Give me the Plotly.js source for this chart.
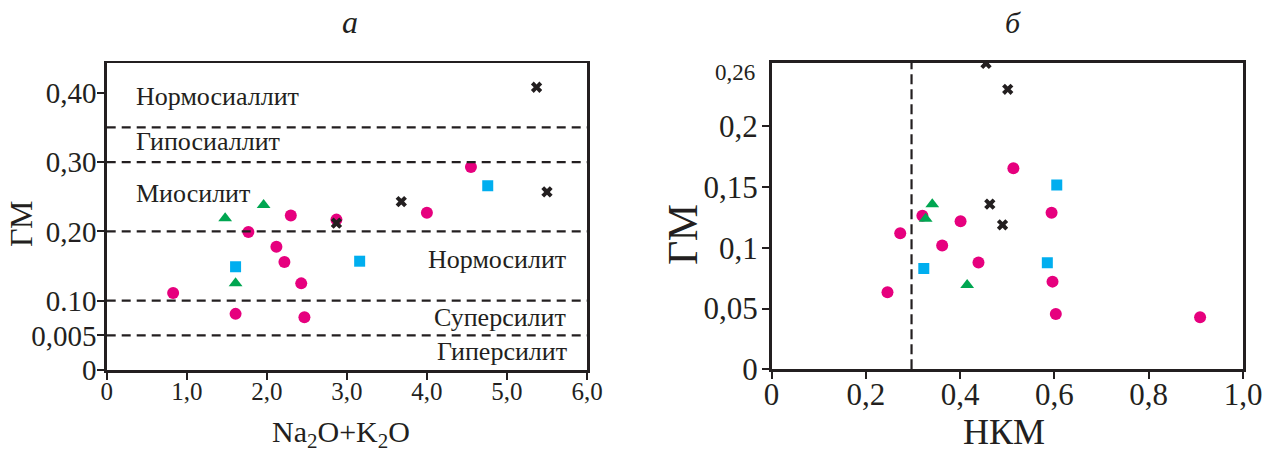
<!DOCTYPE html>
<html>
<head>
<meta charset="utf-8">
<script src="https://cdn.plot.ly/plotly-3.0.1.min.js"></script>
<style>html,body{margin:0;padding:0;background:#fff;}#chart{width:1265px;height:453px;}</style>
</head>
<body>
<div id="chart"></div>
<script>
// ---- Panel а : Na2O+K2O vs ГМ ----
const aCircleX = [0.83, 1.77, 2.12, 2.22, 2.30, 2.43, 1.61, 2.47, 2.87, 4.00, 4.55];
const aCircleY = [0.111, 0.199, 0.178, 0.156, 0.223, 0.125, 0.081, 0.076, 0.217, 0.227, 0.293];
const aTriX = [1.48, 1.96, 1.61];
const aTriY = [0.219, 0.238, 0.125];
const aSqX = [1.61, 3.16, 4.76];
const aSqY = [0.149, 0.157, 0.266];
const aCrossX = [2.87, 3.68, 5.37, 5.50];
const aCrossY = [0.212, 0.243, 0.408, 0.257];
const aBoundaries = [0.05, 0.10, 0.20, 0.30, 0.35];
const aZoneNames = ["Нормосиаллит", "Гипосиаллит", "Миосилит", "Нормосилит", "Суперсилит", "Гиперсилит"];
const aZoneX = [0.34, 0.34, 0.34, 5.76, 5.76, 5.78];
const aZoneY = [0.394, 0.330, 0.254, 0.160, 0.076, 0.026];
const aXTicks = [0, 1, 2, 3, 4, 5, 6];
const aXTickText = ["0", "1,0", "2,0", "3,0", "4,0", "5,0", "6,0"];
const aYTicks = [0, 0.05, 0.10, 0.20, 0.30, 0.40];
const aYTickText = ["0", "0,005", "0.10", "0,20", "0,30", "0,40"];

// ---- Panel б : НКМ vs ГМ ----
const bCircleX = [0.246, 0.273, 0.320, 0.362, 0.401, 0.439, 0.513, 0.594, 0.596, 0.603, 0.909];
const bCircleY = [0.0634, 0.112, 0.1265, 0.102, 0.122, 0.088, 0.1656, 0.129, 0.0722, 0.0455, 0.0428];
const bTriX = [0.327, 0.341, 0.415];
const bTriY = [0.124, 0.136, 0.0694];
const bSqX = [0.323, 0.585, 0.605];
const bSqY = [0.083, 0.0878, 0.1518];
const bCrossX = [0.455, 0.501, 0.463, 0.490];
const bCrossY = [0.252, 0.2306, 0.136, 0.119];
const bBoundaryX = 0.297;
const bXTicks = [0, 0.2, 0.4, 0.6, 0.8, 1.0];
const bXTickText = ["0", "0,2", "0,4", "0,6", "0,8", "1,0"];
const bYTicks = [0, 0.05, 0.10, 0.15, 0.20];
const bYTickText = ["0", "0,05", "0,1", "0,15", "0,2"];

const PINK = "#e6007e", GREEN = "#00a651", BLUE = "#00aeef", BLACK = "#231f20";
const SERIF = "Liberation Serif, Times New Roman, serif";

function pts(x, y, xa, ya, symbol, color, size) {
  return {x: x, y: y, xaxis: xa, yaxis: ya, type: "scatter", mode: "markers",
    marker: {symbol: symbol, color: color, size: size, line: {width: 0}},
    showlegend: false, hoverinfo: "skip"};
}

const data = [
  pts(aCircleX, aCircleY, "x", "y", "circle", PINK, 12),
  pts(aTriX, aTriY, "x", "y", "triangle-up", GREEN, 12),
  pts(aSqX, aSqY, "x", "y", "square", BLUE, 11),
  pts(aCrossX, aCrossY, "x", "y", "x", BLACK, 10),
  pts(bCircleX, bCircleY, "x2", "y2", "circle", PINK, 12),
  pts(bTriX, bTriY, "x2", "y2", "triangle-up", GREEN, 12),
  pts(bSqX, bSqY, "x2", "y2", "square", BLUE, 11),
  pts(bCrossX, bCrossY, "x2", "y2", "x", BLACK, 10)
];

const shapes = aBoundaries.map(v => ({type: "line", xref: "x domain", yref: "y",
  x0: 0, x1: 1, y0: v, y1: v, line: {color: BLACK, width: 2.2, dash: "9px,6px"}}));
shapes.push({type: "line", xref: "x2", yref: "y2 domain", x0: bBoundaryX, x1: bBoundaryX,
  y0: 0, y1: 1, line: {color: BLACK, width: 2.2, dash: "10px,5px"}});

const annotations = aZoneNames.map((t, i) => ({text: t, x: aZoneX[i], y: aZoneY[i],
  xref: "x", yref: "y", showarrow: false, xanchor: i < 3 ? "left" : "right", yanchor: "middle",
  font: {family: SERIF, size: 26, color: BLACK}}));

function paperText(text, x, y, size, extra) {
  return Object.assign({text: text, x: x / 1265, y: 1 - y / 453, xref: "paper", yref: "paper",
    showarrow: false, xanchor: "center", yanchor: "middle",
    font: {family: SERIF, size: size, color: BLACK}}, extra || {});
}
annotations.push(paperText("<i>а</i>", 350, 22, 32));
annotations.push(paperText("<i>б</i>", 1013, 22, 30));
annotations.push(paperText("ГМ", 21, 224, 32, {textangle: -90}));
annotations.push(paperText("ГМ", 683, 235, 42, {textangle: -90}));
annotations.push(paperText("Na<sub>2</sub>O+K<sub>2</sub>O", 341, 434, 30));
annotations.push(paperText("НКМ", 1004, 432, 36));
annotations.push(paperText("0,26", 757, 72, 23, {xanchor: "right"}));

function axis(extra) {
  return Object.assign({showline: true, mirror: true, linecolor: BLACK, linewidth: 2.5,
    ticks: "outside", ticklen: 7, tickwidth: 2, tickcolor: BLACK, showgrid: false,
    zeroline: false, tickmode: "array", automargin: false}, extra);
}

const layout = {
  width: 1265, height: 453,
  margin: {l: 0, r: 0, t: 0, b: 0},
  paper_bgcolor: "#fff", plot_bgcolor: "#fff",
  xaxis: axis({domain: [106.7 / 1265, 587 / 1265], range: [0, 6], tickvals: aXTicks, ticktext: aXTickText,
    tickfont: {family: SERIF, size: 25, color: BLACK}, anchor: "y", ticklabelstandoff: -10}),
  yaxis: axis({domain: [1 - 370 / 453, 1 - 63 / 453], range: [0, 0.443], tickvals: aYTicks, ticktext: aYTickText,
    tickfont: {family: SERIF, size: 29, color: BLACK}, anchor: "x", ticklabelstandoff: -5}),
  xaxis2: axis({domain: [771.5 / 1265, 1243 / 1265], range: [0, 1.0], tickvals: bXTicks, ticktext: bXTickText,
    tickfont: {family: SERIF, size: 31, color: BLACK}, anchor: "y2", ticklabelstandoff: -11}),
  yaxis2: axis({domain: [1 - 369.3 / 453, 1 - 62.7 / 453], range: [0, 0.2525], tickvals: bYTicks, ticktext: bYTickText,
    tickfont: {family: SERIF, size: 31, color: BLACK}, anchor: "x2", ticklabelstandoff: -2}),
  shapes: shapes,
  annotations: annotations
};

Plotly.newPlot("chart", data, layout, {staticPlot: true, displayModeBar: false});
</script>
</body>
</html>
